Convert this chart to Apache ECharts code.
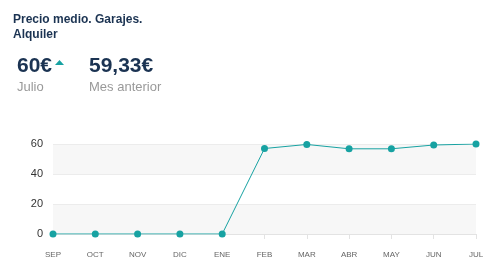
<!DOCTYPE html>
<html><head><meta charset="utf-8">
<script src="https://cdn.jsdelivr.net/npm/echarts@6/dist/echarts.min.js"></script>
<style>html,body{margin:0;padding:0;background:#fff}#c{width:490px;height:278px}</style>
</head><body><div id="c"></div>
<script>
const categories = ['SEP','OCT','NOV','DIC','ENE','FEB','MAR','ABR','MAY','JUN','JUL'];
const values = [0, 0, 0, 0, 0, 57, 59.7, 56.8, 56.8, 59.33, 60];
const yTicks = [0, 20, 40, 60];
const titleText = 'Precio medio. Garajes.\nAlquiler';
const currentValue = '60€';
const currentLabel = 'Julio';
const prevValue = '59,33€';
const prevLabel = 'Mes anterior';

const teal = '#17a2a2';
const navy = '#1b3352';
const ff = 'Arial, Liberation Sans';
const chart = echarts.init(document.getElementById('c'));
chart.setOption({
  animation: false,
  title: [
    {text: titleText, left: 8, top: 7, padding: 5, textStyle: {fontFamily: ff, fontSize: 12, fontWeight: 'bold', color: navy, lineHeight: 15}},
    {text: currentValue, left: 12, top: 51, textStyle: {fontFamily: ff, fontSize: 21, fontWeight: 'bold', color: navy}},
    {text: currentLabel, left: 12, top: 76, textStyle: {fontFamily: ff, fontSize: 13, fontWeight: 'normal', color: '#999'}},
    {text: prevValue, left: 84, top: 51, textStyle: {fontFamily: ff, fontSize: 21, fontWeight: 'bold', color: navy}},
    {text: prevLabel, left: 84, top: 76, textStyle: {fontFamily: ff, fontSize: 13, fontWeight: 'normal', color: '#999'}}
  ],
  graphic: [{type: 'polygon', shape: {points: [[55, 65], [64, 65], [59.5, 60]]}, style: {fill: teal}}],
  grid: {left: 53, right: 14, top: 144, bottom: 44},
  xAxis: {
    type: 'category', data: categories, boundaryGap: false,
    axisLine: {lineStyle: {color: '#e3e3e3'}},
    axisTick: {length: 5, lineStyle: {color: '#e3e3e3'}, interval: (i) => i >= 5},
    axisLabel: {fontFamily: ff, fontSize: 8, color: '#666', margin: 17}
  },
  yAxis: {
    type: 'value', min: yTicks[0], max: yTicks[yTicks.length - 1], interval: 20,
    axisLine: {show: false}, axisTick: {show: false},
    axisLabel: {fontFamily: ff, fontSize: 11, color: '#333', margin: 10},
    splitLine: {lineStyle: {color: '#ececec'}},
    splitArea: {show: true, areaStyle: {color: ['#f7f7f7', '#ffffff']}}
  },
  series: [{
    type: 'line', data: values, symbol: 'circle', symbolSize: 7,
    lineStyle: {color: teal, width: 1}, itemStyle: {color: teal}
  }]
});
</script></body></html>
